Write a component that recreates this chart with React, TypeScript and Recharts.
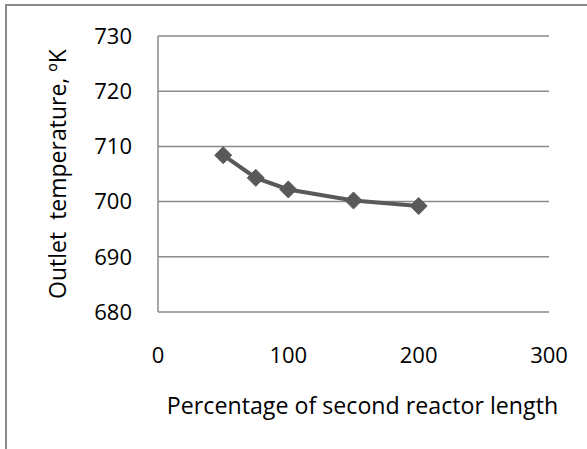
import React from 'react';
import { LineChart, Line, XAxis, YAxis, CartesianGrid, Label } from 'recharts';

const lengthPct = [50, 75, 100, 150, 200];
const outletTemp = [708.4, 704.3, 702.2, 700.2, 699.2];
const xTicks = [0, 100, 200, 300];
const yTicks = [680, 690, 700, 710, 720, 730];
const xTitle = 'Percentage of second reactor length';
const yTitle = 'Outlet  temperature, ºK';

const data = lengthPct.map((x, i) => ({ x, y: outletTemp[i] }));

const FONT = '"Open Sans", Lato, sans-serif';
const GRID = '#8a8a8a';
const SERIES = '#595959';

const Diamond = (props: any) => {
  const { cx, cy } = props;
  if (cx == null || cy == null) return null;
  const r = 8.5;
  return (
    <polygon
      points={`${cx},${cy - r} ${cx + r},${cy} ${cx},${cy + r} ${cx - r},${cy}`}
      fill={SERIES}
      stroke={SERIES}
      strokeWidth={1}
    />
  );
};

const XTitle = (props: any) => {
  const vb = props.viewBox;
  return (
    <text x={vb.x + vb.width / 2 + 9} y={vb.y + 102} textAnchor="middle" fontFamily={FONT} fontSize={23.2} fill="#000">
      {xTitle}
    </text>
  );
};

const YTitle = (props: any) => {
  const vb = props.viewBox;
  const x = 66;
  const y = vb.y + vb.height / 2;
  return (
    <text x={x} y={y} transform={`rotate(-90, ${x}, ${y})`} textAnchor="middle" fontFamily={FONT} fontSize={23} fill="#000" style={{ whiteSpace: 'pre' }}>
      {yTitle}
    </text>
  );
};

export default function App() {
  return (
    <div style={{ position: 'absolute', left: 0, top: 0, width: 587, height: 449, background: '#fff', overflow: 'hidden' }}>
      <div style={{ position: 'absolute', left: 5, top: 4, width: 600, height: 460, borderTop: `2px solid ${GRID}`, borderLeft: `2px solid ${GRID}` }} />
      <div style={{ position: 'absolute', left: 0, top: 0 }}>
        <LineChart width={587} height={449} data={data} margin={{ top: 36, right: 38, bottom: 0, left: 0 }}>
          <CartesianGrid vertical={false} stroke={GRID} strokeWidth={1.5} />
          <XAxis
            dataKey="x"
            type="number"
            domain={[0, 300]}
            ticks={xTicks}
            height={137}
            axisLine={false}
            tickLine={false}
            tickSize={0}
            tickMargin={35}
            tick={{ fontFamily: FONT, fontSize: 22, fill: '#000' }}
          >
            <Label content={XTitle} />
          </XAxis>
          <YAxis
            type="number"
            domain={[680, 730]}
            ticks={yTicks}
            width={158}
            axisLine={{ stroke: GRID, strokeWidth: 1.5 }}
            tickLine={false}
            tickSize={0}
            tickMargin={26}
            tick={{ fontFamily: FONT, fontSize: 22, fill: '#000' }}
          >
            <Label content={YTitle} />
          </YAxis>
          <Line
            type="linear"
            dataKey="y"
            stroke={SERIES}
            strokeWidth={4}
            dot={<Diamond />}
            activeDot={false}
            isAnimationActive={false}
          />
        </LineChart>
      </div>
    </div>
  );
}
